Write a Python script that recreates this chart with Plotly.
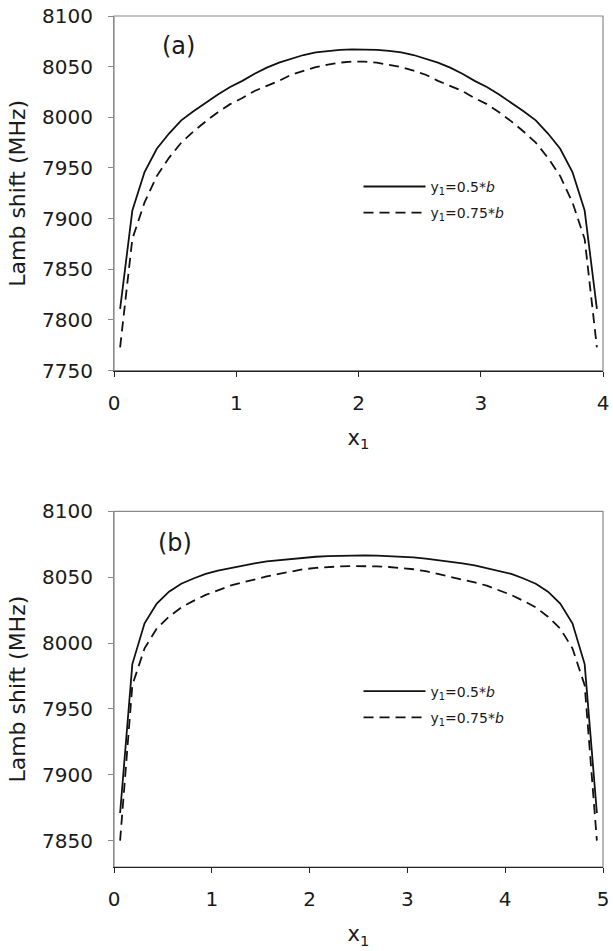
import plotly.graph_objects as go
from plotly.subplots import make_subplots

# ---- Panel (a) data ----
x_a = [0.05, 0.15, 0.25, 0.35, 0.45, 0.55, 0.65, 0.75, 0.85, 0.95,
       1.05, 1.15, 1.25, 1.35, 1.45, 1.55, 1.65, 1.75, 1.85, 1.95,
       2.05, 2.15, 2.25, 2.35, 2.45, 2.55, 2.65, 2.75, 2.85, 2.95,
       3.05, 3.15, 3.25, 3.35, 3.45, 3.55, 3.65, 3.75, 3.85, 3.95]
a_y05 = [7811, 7908, 7946, 7969, 7984, 7997, 8006, 8014.5, 8022.5, 8030,
         8036, 8043, 8049, 8054, 8058, 8061.5, 8064, 8065.5, 8066.5, 8067,
         8067, 8066.5, 8065.5, 8064, 8061.5, 8058, 8054, 8049, 8043, 8036,
         8030, 8022.5, 8014.5, 8006, 7997, 7984, 7969, 7946, 7908, 7811]
a_y075 = [7773, 7880, 7916, 7942, 7960, 7975, 7986, 7996, 8005, 8013,
          8019, 8026, 8031, 8036, 8042, 8046, 8049.5, 8052, 8054, 8055,
          8055, 8054, 8052, 8049.5, 8046, 8042, 8036, 8031, 8026, 8019,
          8013, 8005, 7996, 7986, 7975, 7960, 7942, 7916, 7880, 7773]

# ---- Panel (b) data ----
x_b = [0.0625, 0.1875, 0.3125, 0.4375, 0.5625, 0.6875, 0.8125, 0.9375, 1.0625, 1.1875,
       1.3125, 1.4375, 1.5625, 1.6875, 1.8125, 1.9375, 2.0625, 2.1875, 2.3125, 2.4375,
       2.5625, 2.6875, 2.8125, 2.9375, 3.0625, 3.1875, 3.3125, 3.4375, 3.5625, 3.6875,
       3.8125, 3.9375, 4.0625, 4.1875, 4.3125, 4.4375, 4.5625, 4.6875, 4.8125, 4.9375]
b_y05 = [7871, 7984, 8015, 8030, 8039, 8045, 8049, 8052.5, 8055, 8057,
         8059, 8060.5, 8062, 8063, 8064, 8065, 8065.5, 8066, 8066.3, 8066.5,
         8066.5, 8066.3, 8066, 8065.5, 8065, 8064, 8063, 8062, 8060.5, 8059,
         8057, 8055, 8052.5, 8049, 8045, 8039, 8030, 8015, 7984, 7871]
b_y075 = [7850, 7968, 7996, 8011, 8020, 8027, 8032, 8036.5, 8040, 8043.5,
          8046, 8048.5, 8050.5, 8052.5, 8054.5, 8056, 8057, 8057.7, 8058.2, 8058.4,
          8058.4, 8058.2, 8057.7, 8057, 8056, 8054.5, 8052.5, 8050.5, 8048.5, 8046,
          8043.5, 8040, 8036.5, 8032, 8027, 8020, 8011, 7996, 7968, 7850]

series_names = ["y<sub>1</sub>=0.5*<i>b</i>", "y<sub>1</sub>=0.75*<i>b</i>"]
panel_labels = ["(a)", "(b)"]
a_xticks = [0, 1, 2, 3, 4]
b_xticks = [0, 1, 2, 3, 4, 5]
a_yticks = [7750, 7800, 7850, 7900, 7950, 8000, 8050, 8100]
b_yticks = [7850, 7900, 7950, 8000, 8050, 8100]

FONT = "DejaVu Sans, Arial, sans-serif"
TXT = "#1a1a1a"
GRAY = "#8a8a8a"
DASH = "10px,6px"

fig = make_subplots(rows=2, cols=1)

fig.add_trace(go.Scatter(x=x_a, y=a_y05, mode="lines", name=series_names[0],
                         line=dict(color="#111", width=1.8), legend="legend",
                         legendgroup="a1"), row=1, col=1)
fig.add_trace(go.Scatter(x=x_a, y=a_y075, mode="lines", name=series_names[1],
                         line=dict(color="#111", width=1.8, dash=DASH), legend="legend",
                         legendgroup="a2"), row=1, col=1)
fig.add_trace(go.Scatter(x=x_b, y=b_y05, mode="lines", name=series_names[0],
                         line=dict(color="#111", width=1.8), legend="legend2",
                         legendgroup="b1"), row=2, col=1)
fig.add_trace(go.Scatter(x=x_b, y=b_y075, mode="lines", name=series_names[1],
                         line=dict(color="#111", width=1.8, dash=DASH), legend="legend2",
                         legendgroup="b2"), row=2, col=1)

axis_common = dict(showgrid=False, zeroline=False, ticks="outside", ticklen=5,
                   tickfont=dict(family=FONT, size=20, color=TXT))

fig.update_xaxes(**axis_common, showline=True, linecolor="#222", linewidth=1.2,
                 tickcolor="#222", ticklabelstandoff=9, ticklabeloverflow="allow",
                 title=dict(text="x<sub>1</sub>", font=dict(family=FONT, size=21, color=TXT),
                            standoff=16))
fig.update_yaxes(**axis_common, showline=True, linecolor=GRAY, linewidth=1.2,
                 tickcolor=GRAY, ticklabelstandoff=11,
                 title=dict(text="Lamb shift (MHz)", font=dict(family=FONT, size=22, color=TXT),
                            standoff=10))

fig.update_layout(
    xaxis=dict(domain=[0, 1], range=[0, 4], tickvals=a_xticks),
    yaxis=dict(domain=[0.5833, 1.0], range=[7750, 8100], tickvals=a_yticks),
    xaxis2=dict(domain=[0, 1], range=[0, 5], tickvals=b_xticks),
    yaxis2=dict(domain=[0.0, 0.418], range=[7830, 8100], tickvals=b_yticks),
)

# frame (top/right) in gray
for xr, yr in (("x domain", "y domain"), ("x2 domain", "y2 domain")):
    fig.add_shape(type="rect", xref=xr, yref=yr, x0=0, x1=1, y0=0, y1=1,
                  line=dict(color=GRAY, width=1.2), layer="below")

fig.add_annotation(x=0.53, y=8070, xref="x", yref="y", text=panel_labels[0],
                   showarrow=False, font=dict(family=FONT, size=24, color=TXT))
fig.add_annotation(x=0.62, y=8076, xref="x2", yref="y2", text=panel_labels[1],
                   showarrow=False, font=dict(family=FONT, size=24, color=TXT))

legend_style = dict(font=dict(family=FONT, size=14, color=TXT), bgcolor="rgba(0,0,0,0)",
                    xanchor="left", yanchor="top", tracegroupgap=5, itemwidth=62)
fig.update_layout(
    legend=dict(x=0.50, y=0.818, **legend_style),
    legend2=dict(x=0.50, y=0.225, **legend_style),
    width=613, height=951,
    margin=dict(l=114, r=4, t=15, b=84),
    paper_bgcolor="white", plot_bgcolor="white",
    showlegend=True,
)

fig.write_html(
    "out.html",
    config={"displayModeBar": False},
    post_script="document.body.style.margin='0';"
                "document.documentElement.style.overflow='hidden';",
)
